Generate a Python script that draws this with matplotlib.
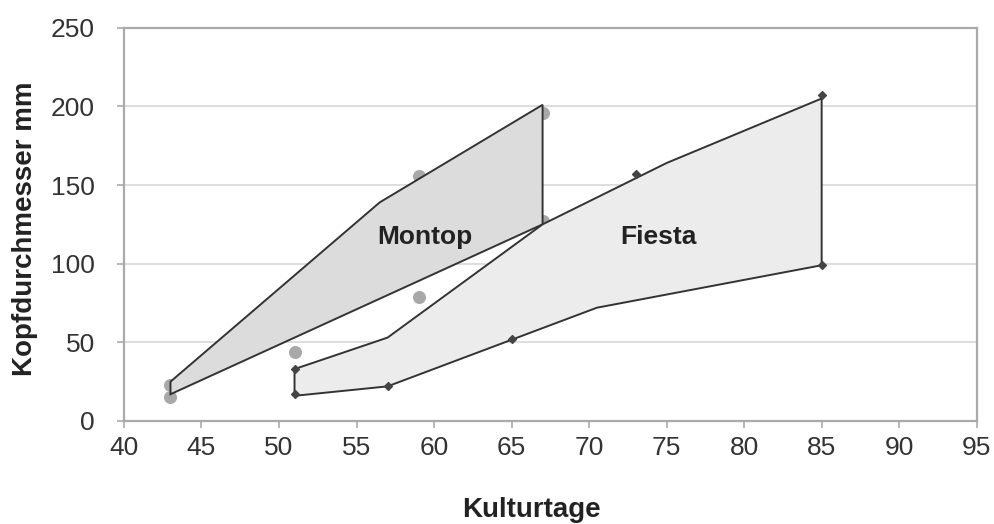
import numpy as np
import matplotlib
matplotlib.use("Agg")
import matplotlib.pyplot as plt

plt.rcParams['font.family'] = ['Liberation Sans', 'DejaVu Sans']

# Montop: Umriss des Bereichs
montop_x = [43, 43, 56.5, 67, 67]
montop_y = [17, 25, 139, 201, 125]
# Montop Messpunkte
montop_pt_x = [43, 43, 51, 59, 59, 67, 67]
montop_pt_y = [23, 15, 44, 156, 79, 196, 127]

# Fiesta: Umriss des Bereichs
fiesta_x = [51, 51, 57, 67, 75, 85, 85, 70.5, 57]
fiesta_y = [16, 33, 53, 125, 164, 205, 99, 72, 22]
# Fiesta Messpunkte
fiesta_pt_x = [51, 51, 57, 65, 73, 85, 85]
fiesta_pt_y = [33, 17, 22, 52, 157, 207, 99]

xticks = np.arange(40, 96, 5)
yticks = np.arange(0, 251, 50)

fig = plt.figure(figsize=(9.95, 5.24), dpi=100)
ax = fig.add_axes([0.1246, 0.1966, 0.857, 0.7505])

ax.fill(montop_x, montop_y, facecolor="#dcdcdd", edgecolor="#333333", lw=1.4, zorder=3)
ax.fill(fiesta_x, fiesta_y, facecolor="#ececec", edgecolor="#333333", lw=1.4, zorder=3)
ax.scatter(montop_pt_x, montop_pt_y, s=70, c="#a8a8a8", zorder=2)
ax.scatter(fiesta_pt_x, fiesta_pt_y, s=16, marker="D", c="#444444", zorder=4)

ax.text(59.4, 117, "Montop", fontsize=19, fontweight="bold", ha="center", va="center", color="#222222", zorder=5)
ax.text(74.5, 117, "Fiesta", fontsize=19, fontweight="bold", ha="center", va="center", color="#222222", zorder=5)

ax.set_xlim(40, 95)
ax.set_ylim(0, 250)
ax.set_xticks(xticks)
ax.set_yticks(yticks)
ax.grid(axis="y", color="#d8d8d8", lw=1.2, zorder=0)
for s in ax.spines.values():
    s.set_color("#aaaaaa")
    s.set_linewidth(1.6)
ax.tick_params(colors="#aaaaaa", labelcolor="#333333", labelsize=19, length=5, width=1.2)
ax.tick_params(axis="x", pad=6)
ax.tick_params(axis="y", pad=16)
ax.set_xlabel("Kulturtage", fontsize=20, fontweight="bold", color="#222222", va="center")
ax.set_ylabel("Kopfdurchmesser mm", fontsize=20, fontweight="bold", color="#222222", va="center")
ax.xaxis.set_label_coords(0.478, -0.226)
ax.yaxis.set_label_coords(-0.116, 0.49)

fig.savefig("out.png", dpi=100)
